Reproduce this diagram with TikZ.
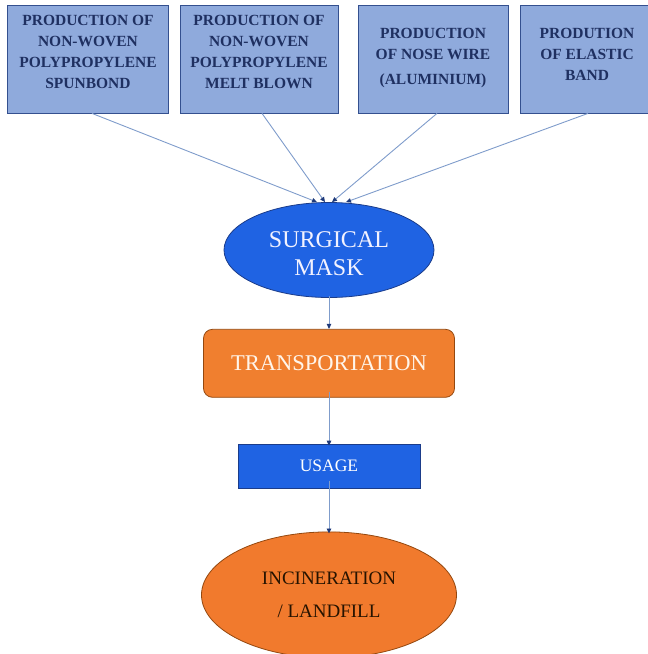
\documentclass[tikz,border=0pt]{standalone}
\usepackage{fontspec}
\setmainfont{Liberation Serif}
\usetikzlibrary{positioning,arrows.meta,shapes}
\usetikzlibrary{calc}
\definecolor{srcfill}{HTML}{8FAADC}
\definecolor{srcline}{HTML}{34508F}
\definecolor{srctext}{HTML}{1F3061}
\definecolor{linkcol}{HTML}{7F9CCB}
\definecolor{tipcol}{HTML}{1F3A7A}
\definecolor{bluefill}{HTML}{1F63E3}
\definecolor{blueline}{HTML}{1B3C8A}
\definecolor{orangefill}{HTML}{F07F2F}
\definecolor{orangeline}{HTML}{94480F}
\tikzset{
  source/.style={rectangle, draw=srcline, thick, fill=srcfill, minimum height=108pt, inner sep=0pt},
  sourcetext/.style={text=srctext, align=center, font=\bfseries\fontsize{15.5}{21}\selectfont},
  linktip/.style={-{Triangle[length=5pt, width=4.5pt, color=tipcol]}, draw=linkcol, line width=0.9pt},
  stage/.style={draw, thick, inner sep=0pt, align=center}
}
\begin{document}
\begin{tikzpicture}[x=1pt, y=-1pt, node distance=31pt]
    \useasboundingbox (0,0) rectangle (648,654);
    \clip (0,0) rectangle (648,654);

    % raw material production
    \node[source, minimum width=161pt, label={[sourcetext, yshift=7pt]center:{PRODUCTION OF\\NON-WOVEN\\POLYPROPYLENE\\SPUNBOND}}] (spun) at (88,59) {};
    \node[source, minimum width=158pt, label={[sourcetext, yshift=7pt]center:{PRODUCTION OF\\NON-WOVEN\\POLYPROPYLENE\\MELT BLOWN}}] (melt) at (259,59) {};
    \node[source, minimum width=150pt, label={[sourcetext, yshift=1pt]center:{PRODUCTION\\OF NOSE WIRE\\[4pt](ALUMINIUM)}}] (wire) at (433,59) {};
    \node[source, minimum width=134pt, label={[sourcetext, yshift=5pt]center:{PRODUTION\\OF ELASTIC\\BAND}}] (band) at (587,59) {};

    % life cycle chain
    \node[stage, ellipse, draw=blueline, fill=bluefill, minimum width=210pt, minimum height=95pt,
          label={[text=blue!5, align=center, font=\fontsize{24}{28}\selectfont, yshift=-4pt]center:{SURGICAL\\MASK}}] (mask) at (329,250) {};
    \node[stage, below=of mask, rectangle, rounded corners=9pt, draw=orangeline, fill=orangefill,
          minimum width=251pt, minimum height=68pt, text=orange!8, font=\fontsize{22.5}{27}\selectfont] (trans) {TRANSPORTATION};
    \node[stage, below=46pt of trans, rectangle, draw=blueline, fill=bluefill,
          minimum width=182pt, minimum height=44pt, text=white, font=\fontsize{17.5}{21}\selectfont] (usage) {USAGE};
    \node[stage, below=43pt of usage, ellipse, draw=orangeline, fill=orangefill!96!red,
          minimum width=255pt, minimum height=126pt, text=black!85!orange, font=\fontsize{19}{33}\selectfont] (waste) {INCINERATION\\/ LANDFILL};

    \coordinate (inA) at ([xshift=-12pt]mask.north);
    \coordinate (inB) at ([xshift=-4pt]mask.north);
    \coordinate (inC) at ([xshift=3pt]mask.north);
    \coordinate (inD) at ([xshift=17pt]mask.north);

    \draw[linktip] ([xshift=4pt]spun.south) -- (inA);
    \draw[linktip] ([xshift=3pt]melt.south) -- (inB);
    \draw[linktip] ([xshift=4pt]wire.south) -- (inC);
    \draw[linktip] ([xshift=1pt]band.south) -- (inD);

    \draw[linktip] ([yshift=2pt]mask.south) -- (trans.north);
    \draw[linktip] ([yshift=6pt]trans.south) -- ([yshift=-2pt]usage.north);
    \draw[linktip] ([yshift=8pt]usage.south) -- ([yshift=-2pt]waste.north);
\end{tikzpicture}
\end{document}
